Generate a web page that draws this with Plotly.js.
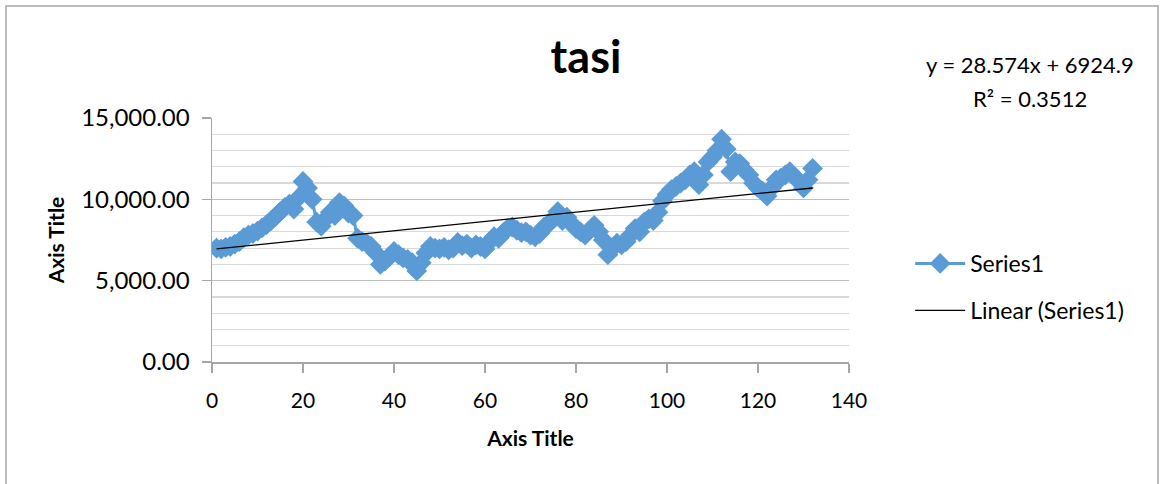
<!DOCTYPE html>
<html>
<head>
<meta charset="utf-8">
<script src="https://cdn.plot.ly/plotly-3.0.1.min.js"></script>
<style>html,body{margin:0;padding:0;background:#fff;}#chart{width:1165px;height:484px;}</style>
</head>
<body>
<div id="chart"></div>
<script>
// Series1 values (x = 1..132)
const seriesValues = [
 7000, 6950, 7050, 7100, 7250, 7400, 7650, 7800, 7900, 8050,
 8250, 8450, 8700, 8950, 9250, 9500, 9700, 9400, 10100, 11100,
 10700, 10000, 8600, 8350, 8800, 9200, 9000, 9800, 9600, 9150,
 9000, 7600, 7400, 7300, 7100, 6700, 6000, 6200, 6500, 6800,
 6600, 6400, 6300, 6100, 5600, 6100, 6700, 7100, 7000, 6950,
 7050, 6900, 7000, 7350, 7150, 7250, 7000, 7200, 7100, 6950,
 7400, 7700, 7600, 7950, 8200, 8300, 8100, 7950, 8000, 7800,
 7700, 7900, 8300, 8500, 8800, 9250, 8700, 8900, 8500, 8200,
 8000, 7800, 8100, 8400, 8000, 7500, 6600, 7000, 7300, 7200,
 7400, 7800, 8200, 8000, 8600, 8800, 8700, 9200, 9900, 10300,
 10600, 10800, 11000, 11200, 11500, 11700, 10900, 11500, 12300, 12600,
 13000, 13700, 13100, 11700, 12300, 12200, 11800, 11500, 11000, 10700,
 10500, 10200, 10700, 11200, 11300, 11500, 11700, 11400, 11100, 10700,
 11200, 11900
];
const xValues = seriesValues.map((_, i) => i + 1);
// Linear trend (from the chart's equation)
const trendSlope = 28.574;
const trendIntercept = 6924.9;
const trendR2 = 0.3512;
const trendX = [xValues[0], xValues[xValues.length - 1]];
const trendY = trendX.map(x => trendSlope * x + trendIntercept);
const xTickVals = [0, 20, 40, 60, 80, 100, 120, 140];
const yTickVals = [0, 5000, 10000, 15000];

const FONT = 'Lato, "Open Sans", sans-serif';
const traces = [
  {
    x: xValues, y: seriesValues, type: 'scatter', mode: 'lines+markers',
    name: 'Series1', legendgroup: 'a',
    line: {color: '#5B9BD5', width: 3},
    marker: {symbol: 'diamond', size: 16, color: '#5B9BD5'}
  },
  {
    x: trendX, y: trendY, type: 'scatter', mode: 'lines',
    name: 'Linear (Series1)', legendgroup: 'b',
    line: {color: '#000000', width: 1.3}
  }
];

const layout = {
  width: 1165, height: 484,
  margin: {l: 212, r: 316, t: 118, b: 122},
  paper_bgcolor: '#ffffff', plot_bgcolor: '#ffffff',
  font: {family: FONT, color: '#000000'},
  title: {text: '<b>tasi</b>', font: {family: FONT, size: 45, color: '#000'},
          x: 0.503, xref: 'container', y: 0.882, yref: 'container', yanchor: 'middle'},
  xaxis: {
    range: [0, 140], tickvals: xTickVals, ticktext: xTickVals.map(String),
    showgrid: false, zeroline: false,
    showline: true, linecolor: '#a6a6a6', linewidth: 1.5,
    ticks: 'outside', ticklen: 9, tickcolor: '#a6a6a6', tickwidth: 1.5,
    ticklabelstandoff: 10,
    tickfont: {family: FONT, size: 21, color: '#000'},
    title: {text: '<b>Axis Title</b>', font: {family: FONT, size: 21, color: '#000'}, standoff: 20}
  },
  yaxis: {
    range: [0, 15000], tickvals: yTickVals, tickformat: ',.2f',
    showgrid: true, gridcolor: '#bfbfbf', gridwidth: 1.5, zeroline: false,
    showline: true, linecolor: '#a6a6a6', linewidth: 1.5,
    ticks: 'outside', ticklen: 9, tickcolor: '#a6a6a6', tickwidth: 1.5,
    ticklabelstandoff: 7,
    tickfont: {family: FONT, size: 24, color: '#000'},
    minor: {dtick: 1000, showgrid: true, gridcolor: '#d9d9d9', gridwidth: 1.2, ticks: ''},
    title: {text: '<b>Axis Title</b>', font: {family: FONT, size: 21, color: '#000'}, standoff: 11}
  },
  showlegend: true,
  legend: {
    x: 1.096, xanchor: 'left', y: 0.492, yanchor: 'top',
    font: {family: FONT, size: 23, color: '#000'},
    traceorder: 'grouped', tracegroupgap: 14,
    bgcolor: 'rgba(0,0,0,0)', itemwidth: 50
  },
  annotations: [
    {xref: 'paper', yref: 'paper', x: 1.284, y: 1.218, showarrow: false,
     text: 'y = ' + trendSlope + 'x + ' + trendIntercept,
     font: {family: FONT, size: 22, color: '#000'}, xanchor: 'center', yanchor: 'middle'},
    {xref: 'paper', yref: 'paper', x: 1.284, y: 1.078, showarrow: false,
     text: 'R² = ' + trendR2,
     font: {family: FONT, size: 22, color: '#000'}, xanchor: 'center', yanchor: 'middle'}
  ],
  shapes: [
    {type: 'rect', xref: 'paper', yref: 'paper', x0: -0.3234, x1: 1.4851, y0: -0.7, y1: 1.459,
     line: {color: '#a6a6a6', width: 1.5}, fillcolor: 'rgba(0,0,0,0)', layer: 'below'}
  ]
};

Plotly.newPlot('chart', traces, layout, {displayModeBar: false, staticPlot: true});
</script>
</body>
</html>
